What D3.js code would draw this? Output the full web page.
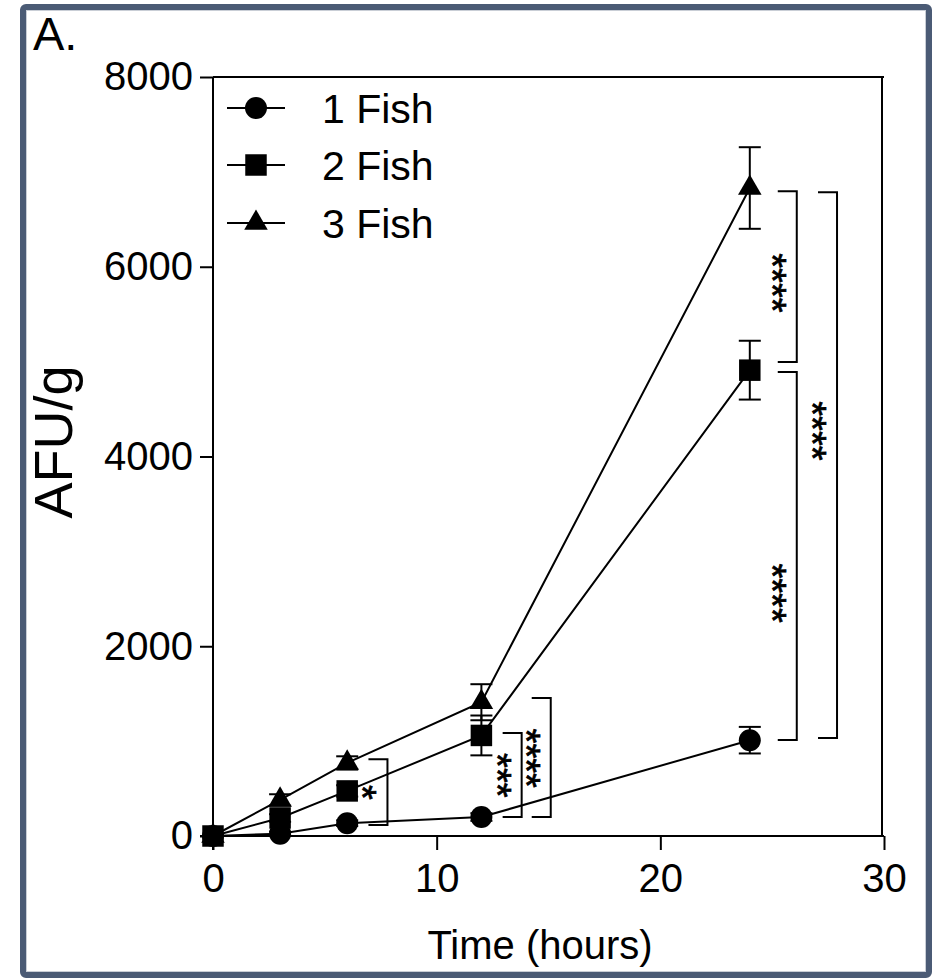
<!DOCTYPE html>
<html>
<head>
<meta charset="utf-8">
<script src="https://cdn.jsdelivr.net/npm/d3@7/dist/d3.min.js"></script>
<style>
  html, body { margin: 0; padding: 0; background: #fff; }
  svg { display: block; }
  text { font-family: "Liberation Sans", Arial, sans-serif; fill: #000; }
</style>
</head>
<body>
<svg id="chart" width="943" height="978"></svg>
<script>
// ---- data ----
const times = [0, 3, 6, 12, 24];
const fish1 = [0, 25, 135, 200, 1010];
const err1  = [0, 20, 30, 40, 140];
const fish2 = [0, 190, 475, 1060, 4910];
const err2  = [0, 40, 60, 210, 310];
const fish3 = [0, 380, 770, 1410, 6830];
const err3  = [0, 60, 70, 190, 430];
const seriesNames = ["1 Fish", "2 Fish", "3 Fish"];
const xTicks = [0, 10, 20, 30];
const yTicks = [0, 2000, 4000, 6000, 8000];
// significance brackets: [xStart(h), xEnd(h), yTop, yBottom, label, labelY]
const brackets = [
  [6.95, 7.8, 810, 115, "*", 460],
  [12.95, 13.8, 1085, 200, "***", 640],
  [14.25, 15.1, 1455, 200, "****", 820],
  [25.25, 26.1, 6796, 4995, "****", 5830],
  [25.25, 26.1, 4890, 1012, "****", 2560],
  [27.05, 27.9, 6786, 1033, "****", 4270]
];

const svg = d3.select("#chart");
const W = 943, H = 978;

svg.append("rect").attr("x", 0).attr("y", 0).attr("width", W).attr("height", H).attr("fill", "#fff");
// outer frame
svg.append("rect").attr("x", 23).attr("y", 7).attr("width", 906).attr("height", 968)
  .attr("rx", 3).attr("fill", "none").attr("stroke", "#4b5b75").attr("stroke-width", 6);
svg.append("rect").attr("x", 26.5).attr("y", 10.5).attr("width", 899).attr("height", 961)
  .attr("fill", "none").attr("stroke", "#c9ced6").attr("stroke-width", 1);

const x = d3.scaleLinear().domain([0, 30]).range([213, 884]);
const y = d3.scaleLinear().domain([0, 8000]).range([836, 77]);

// panel letter
svg.append("text").attr("x", 33).attr("y", 50).attr("font-size", 47).text("A.");

// plot box (top & right)
svg.append("line").attr("x1", x(0)).attr("x2", x(30)).attr("y1", y(8000)).attr("y2", y(8000))
  .attr("stroke", "#000").attr("stroke-width", 2);
svg.append("line").attr("x1", x(30) - 2).attr("x2", x(30) - 2).attr("y1", y(8000)).attr("y2", y(0))
  .attr("stroke", "#000").attr("stroke-width", 2);

// axes
const xAxis = d3.axisBottom(x).tickValues(xTicks).tickFormat(d3.format("d"))
  .tickSize(14).tickPadding(14).tickSizeOuter(0);
const gx = svg.append("g").attr("transform", `translate(0,${y(0)})`).call(xAxis);
gx.select(".domain").attr("stroke-width", 2).attr("d", `M${x(0) - 13},0H${x(30)}`);
gx.selectAll(".tick line").attr("stroke-width", 2);
gx.selectAll(".tick text").attr("font-size", 40).attr("font-family", "Liberation Sans, Arial, sans-serif")
  .attr("dy", "0.71em");

const yAxis = d3.axisLeft(y).tickValues(yTicks).tickFormat(d3.format("d"))
  .tickSize(13).tickPadding(7).tickSizeOuter(0);
const gy = svg.append("g").attr("transform", `translate(${x(0)},0)`).call(yAxis);
gy.select(".domain").attr("stroke-width", 2).attr("d", `M0,${y(8000)}V${y(0) + 14}`);
gy.selectAll(".tick line").attr("stroke-width", 2);
gy.selectAll(".tick text").attr("font-size", 40).attr("font-family", "Liberation Sans, Arial, sans-serif");

// axis titles
svg.append("text").attr("transform", `translate(72,442) rotate(-90)`).attr("text-anchor", "middle")
  .attr("font-size", 54).text("AFU/g");
svg.append("text").attr("x", 540).attr("y", 959).attr("text-anchor", "middle")
  .attr("font-size", 40).text("Time (hours)");

// series
const series = [
  { name: seriesNames[0], vals: fish1, errs: err1, sym: d3.symbolCircle, size: 380 },
  { name: seriesNames[1], vals: fish2, errs: err2, sym: d3.symbolSquare, size: 462 },
  { name: seriesNames[2], vals: fish3, errs: err3, sym: d3.symbolTriangle, size: 240 }
];

const line = d3.line().x(d => x(d[0])).y(d => y(d[1]));
series.forEach(s => {
  svg.append("path").datum(times.map((t, i) => [t, s.vals[i]]))
    .attr("d", line).attr("fill", "none").attr("stroke", "#000").attr("stroke-width", 2);
});

// error bars
series.forEach(s => {
  const g = svg.append("g").attr("stroke", "#000").attr("stroke-width", 2);
  times.forEach((t, i) => {
    if (!s.errs[i]) return;
    const cx = x(t), top = y(s.vals[i] + s.errs[i]), bot = y(s.vals[i] - s.errs[i]);
    g.append("line").attr("x1", cx).attr("x2", cx).attr("y1", top).attr("y2", bot);
    g.append("line").attr("x1", cx - 11).attr("x2", cx + 11).attr("y1", top).attr("y2", top);
    g.append("line").attr("x1", cx - 11).attr("x2", cx + 11).attr("y1", bot).attr("y2", bot);
  });
});

// markers (circles, triangles, squares on top)
[0, 2, 1].forEach(k => {
  const s = series[k];
  svg.append("g").selectAll("path").data(times.map((t, i) => [t, s.vals[i]])).join("path")
    .attr("transform", d => `translate(${x(d[0])},${y(d[1])})`)
    .attr("d", d3.symbol().type(s.sym).size(s.size)).attr("fill", "#000");
});

// significance brackets
brackets.forEach(b => {
  const x0 = x(b[0]), x1 = x(b[1]), yt = y(b[2]), yb = y(b[3]);
  svg.append("path").attr("d", `M${x0},${yt}H${x1}V${yb}H${x0}`)
    .attr("fill", "none").attr("stroke", "#000").attr("stroke-width", 2);
  svg.append("text").attr("transform", `translate(${x0},${y(b[5])}) rotate(90)`)
    .attr("text-anchor", "middle").attr("font-size", 38)
    .attr("stroke", "#000").attr("stroke-width", 0.7)
    .attr("dy", "0.5em").text(b[4]);
});

// legend
const legY = [108, 165, 223];
series.forEach((s, i) => {
  const g = svg.append("g").attr("transform", `translate(256,${legY[i]})`);
  g.append("line").attr("x1", -29).attr("x2", 29).attr("stroke", "#000").attr("stroke-width", 2);
  g.append("path").attr("d", d3.symbol().type(s.sym).size(s.size)).attr("fill", "#000");
  svg.append("text").attr("x", 322).attr("y", legY[i]).attr("dy", "0.36em")
    .attr("font-size", 41).text(s.name);
});
</script>
</body>
</html>
